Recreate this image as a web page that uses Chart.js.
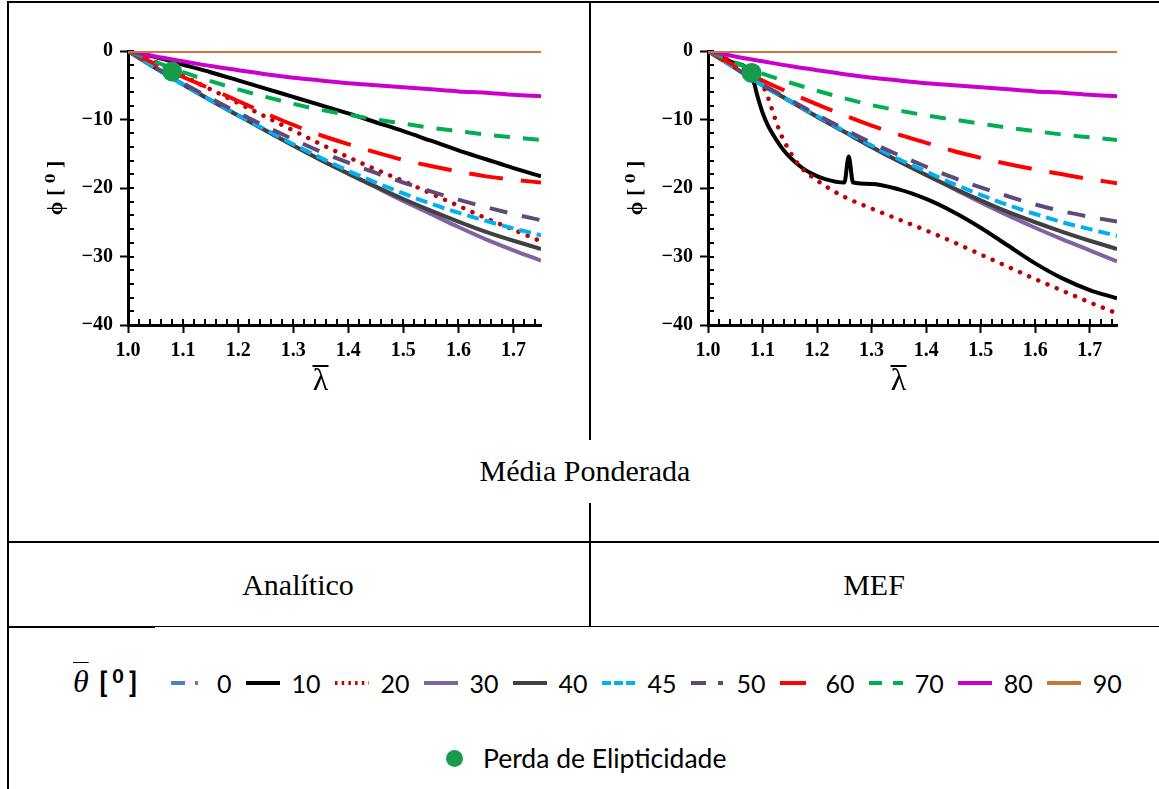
<!DOCTYPE html>
<html>
<head>
<meta charset="utf-8">
<script src="https://cdn.jsdelivr.net/npm/chart.js@4.4.0/dist/chart.umd.min.js"></script>
<style>
body { margin: 0; width: 1159px; height: 789px; position: relative; background: #fff; overflow: hidden; font-family: 'Liberation Serif', 'Times New Roman', serif; }
.ln { position: absolute; background: #000; }
canvas { position: absolute; }
.cap { position: absolute; font-size: 30px; color: #000; transform: translate(-50%, -50%); white-space: nowrap; }
#leg { position: absolute; left: 171px; top: 668px; height: 30px; display: flex; align-items: center; font-family: Lato, sans-serif; font-size: 25px; }
#leg .lab { margin: 0 14px 0 12px; }
#thLab { position: absolute; left: 73px; top: 663px; font-size: 28px; white-space: nowrap; }
#thLab .th { font-style: italic; font-size: 32px; text-decoration: overline; text-decoration-thickness: 1px; }
#thLab b { font-family: Lato, sans-serif; font-weight: 900; margin-left: 10px; }
#thLab sup { font-size: 19px; vertical-align: 9px; margin: 0 5px; }
#perda { position: absolute; left: 446px; top: 742px; display: flex; align-items: center; font-family: Lato, sans-serif; font-size: 26.5px; }
#perda i { display: inline-block; width: 17px; height: 17px; border-radius: 50%; background: #179c4b; margin-right: 20px; }
</style>
</head>
<body>
<!-- moldura da tabela -->
<div class="ln" style="left:7px;top:1px;width:1152px;height:2px"></div>
<div class="ln" style="left:7px;top:1px;width:2px;height:788px"></div>
<div class="ln" style="left:589px;top:1px;width:2px;height:439px"></div>
<div class="ln" style="left:589px;top:503px;width:2px;height:124px"></div>
<div class="ln" style="left:7px;top:541px;width:1152px;height:2px"></div>
<div class="ln" style="left:7px;top:626px;width:148px;height:2px"></div>
<div class="ln" style="left:155px;top:626px;width:1004px;height:1px"></div>

<canvas id="graficaAna" width="578" height="437" style="left:9px;top:3px"></canvas>
<canvas id="graficaMef" width="566" height="437" style="left:591px;top:3px"></canvas>

<div class="cap" style="left:585px;top:471px">Média Ponderada</div>
<div class="cap" style="left:298px;top:585px">Analítico</div>
<div class="cap" style="left:874px;top:585px">MEF</div>

<div id="thLab"><span class="th">θ</span><b>[<sup>0</sup>]</b></div>
<div id="leg"></div>
<div id="perda"><i></i><span>Perda de Elipticidade</span></div>

<script>
    //-----------datos----------------------//
    const lambdaGrid = [1.00, 1.05, 1.10, 1.15, 1.20, 1.25, 1.30, 1.35, 1.40, 1.45, 1.50, 1.55, 1.60, 1.65, 1.70, 1.75];
    const thetas = ['0', '10', '20', '30', '40', '45', '50', '60', '70', '80', '90'];

    // phi [graus] - Analítico
    const anaPhi0  = [0, 0, 0, 0, 0, 0, 0, 0, 0, 0, 0, 0, 0, 0, 0, 0];
    const anaPhi10 = [0, -0.9, -2.0, -3.1, -4.3, -5.5, -6.7, -7.9, -9.1, -10.4, -11.7, -13.1, -14.5, -15.8, -17.1, -18.3];
    const anaPhi20 = [0, -1.6, -3.6, -5.6, -7.6, -9.6, -11.6, -13.6, -15.5, -17.3, -19.0, -20.8, -22.6, -24.4, -26.1, -27.8];
    const anaPhi30 = [0, -2.5, -4.9, -7.2, -9.4, -11.6, -13.8, -15.9, -17.9, -19.9, -21.9, -23.8, -25.7, -27.5, -29.1, -30.6];
    const anaPhi40 = [0, -2.5, -4.9, -7.2, -9.4, -11.6, -13.8, -15.9, -17.9, -19.8, -21.6, -23.3, -24.9, -26.4, -27.7, -28.9];
    const anaPhi45 = [0, -2.5, -4.9, -7.2, -9.4, -11.5, -13.6, -15.6, -17.5, -19.2, -20.8, -22.3, -23.6, -24.8, -25.9, -26.9];
    const anaPhi50 = [0, -2.4, -4.7, -6.9, -9.0, -11.0, -12.9, -14.7, -16.3, -17.8, -19.2, -20.5, -21.7, -22.8, -23.8, -24.7];
    const anaPhi60 = [0, -1.9, -3.8, -5.5, -7.3, -9.1, -10.8, -12.3, -13.6, -14.8, -15.9, -16.8, -17.6, -18.3, -18.8, -19.2];
    const anaPhi70 = [0, -1.6, -3.1, -4.4, -5.6, -6.7, -7.7, -8.6, -9.3, -10.0, -10.6, -11.2, -11.7, -12.2, -12.6, -13.0];
    const anaPhi80 = [0, -0.8, -1.5, -2.2, -2.8, -3.4, -3.9, -4.3, -4.7, -5.0, -5.3, -5.6, -5.9, -6.1, -6.4, -6.6];
    const anaPhi90 = [0, 0, 0, 0, 0, 0, 0, 0, 0, 0, 0, 0, 0, 0, 0, 0];

    // phi [graus] - MEF
    const mefPhi0  = [0, 0, 0, 0, 0, 0, 0, 0, 0, 0, 0, 0, 0, 0, 0, 0];
    const mefLambda10 = [1.00, 1.04, 1.078, 1.085, 1.09, 1.10, 1.11, 1.12, 1.135, 1.15, 1.17, 1.19, 1.215, 1.25, 1.258, 1.266, 1.30, 1.35, 1.40, 1.45, 1.50, 1.55, 1.60, 1.65, 1.70, 1.75];
    const mefPhi10 = [0, -1.5, -3.2, -4.8, -6.4, -9.0, -10.9, -12.3, -14.1, -15.5, -16.9, -17.9, -18.7, -19.2, -15.4, -19.2, -19.4, -20.2, -21.6, -23.5, -25.8, -28.4, -31.0, -33.2, -34.9, -36.1];
    const mefLambda20 = [1.00, 1.05, 1.08, 1.10, 1.111, 1.121, 1.135, 1.151, 1.168, 1.188, 1.215, 1.25, 1.30, 1.35, 1.40, 1.45, 1.50, 1.55, 1.60, 1.65, 1.70, 1.75];
    const mefPhi20 = [0, -1.8, -3.3, -5.0, -7.0, -9.4, -12.4, -14.8, -16.8, -18.2, -19.7, -21.3, -23.0, -24.6, -26.2, -27.9, -29.7, -31.5, -33.3, -35.0, -36.7, -38.3];
    const mefPhi30 = [0, -2.5, -5.0, -7.3, -9.6, -11.8, -14.0, -16.1, -18.1, -20.1, -22.1, -24.0, -25.8, -27.5, -29.1, -30.7];
    const mefPhi40 = [0, -2.5, -5.0, -7.3, -9.6, -11.8, -14.0, -16.1, -18.1, -20.0, -21.8, -23.5, -25.0, -26.4, -27.7, -28.9];
    const mefPhi45 = [0, -2.5, -5.0, -7.3, -9.5, -11.7, -13.8, -15.8, -17.6, -19.4, -21.0, -22.5, -23.8, -25.0, -26.0, -27.0];
    const mefPhi50 = [0, -2.5, -4.9, -7.1, -9.3, -11.4, -13.4, -15.2, -16.9, -18.5, -19.9, -21.2, -22.4, -23.4, -24.2, -24.9];
    const mefPhi60 = [0, -2.2, -4.3, -6.1, -7.8, -9.4, -10.9, -12.2, -13.4, -14.6, -15.6, -16.5, -17.3, -18.0, -18.7, -19.3];
    const mefPhi70 = [0, -1.7, -3.3, -4.6, -5.8, -6.9, -7.9, -8.7, -9.4, -10.0, -10.6, -11.2, -11.7, -12.2, -12.6, -13.0];
    const mefPhi80 = [0, -0.8, -1.5, -2.2, -2.8, -3.4, -3.9, -4.3, -4.7, -5.0, -5.3, -5.6, -5.9, -6.1, -6.4, -6.6];
    const mefPhi90 = [0, 0, 0, 0, 0, 0, 0, 0, 0, 0, 0, 0, 0, 0, 0, 0];

    // perda de elipticidade
    const perdaLambda = [1.08];
    const perdaPhiAna = [-3.0];
    const perdaPhiMef = [-3.2];

    //-----------estilos----------------------//
    const estilos = {
        '0':  { color: '#4F81BD', dash: [14, 8, 3, 8], leg: '14 10 3 10' },
        '10': { color: '#000000', dash: [], leg: '' },
        '20': { color: '#C00000', dash: [0.01, 10], cap: 'round', leg: '2.5 4.2' },
        '30': { color: '#8064A2', dash: [], leg: '' },
        '40': { color: '#404040', dash: [], leg: '' },
        '45': { color: '#00B0F0', dash: [12, 6], leg: '9 3' },
        '50': { color: '#5F497A', dash: [18, 15], leg: '15 12 5 20' },
        '60': { color: '#FF0000', dash: [34, 18], leg: '26 40' },
        '70': { color: '#00B050', dash: [16, 13], leg: '13 11' },
        '80': { color: '#CC00CC', dash: [], leg: '' },
        '90': { color: '#C9783A', dash: [], leg: '' }
    };
    const verde = '#179c4b';

    function serie(xs, ys) {
        return xs.map((x, i) => ({ x: x, y: ys[i] }));
    }

    function armar(series, perdaPhi) {
        const sets = series.map(function(s, i) {
            const e = estilos[s.theta];
            return {
                label: s.theta,
                data: serie(s.x, s.y),
                borderColor: e.color,
                borderWidth: s.theta === '20' ? 4.5 : 4,
                borderDash: e.dash,
                borderCapStyle: e.cap || 'butt',
                pointRadius: 0,
                cubicInterpolationMode: 'monotone',
                fill: false,
                order: thetas.length - i
            };
        });
        sets.push({
            label: 'Perda de Elipticidade',
            data: serie(perdaLambda, perdaPhi),
            showLine: false,
            pointRadius: 10,
            pointBackgroundColor: verde,
            pointBorderWidth: 0,
            order: 0
        });
        return sets;
    }

    // marcas menores dos eixos
    const marcas = {
        id: 'marcas',
        beforeDatasetsDraw(chart) {
            const { ctx, chartArea: a, scales: { x, y } } = chart;
            ctx.save();
            ctx.strokeStyle = '#000';
            ctx.lineWidth = 2;
            ctx.beginPath();
            for (let v = -40; v <= 0; v += 2) {
                const py = Math.round(y.getPixelForValue(v));
                ctx.moveTo(a.left, py);
                ctx.lineTo(a.left + 6, py);
            }
            for (let i = 0; i <= 37; i++) {
                const px = Math.round(x.getPixelForValue(1 + i * 0.02));
                ctx.moveTo(px, a.bottom);
                ctx.lineTo(px, a.bottom - 6);
            }
            ctx.stroke();
            ctx.restore();
        }
    };

    // titulo do eixo x: lambda com barra
    const tituloX = {
        id: 'tituloX',
        afterDraw(chart) {
            const { ctx, chartArea: a } = chart;
            const cx = (a.left + a.right) / 2 - 14;
            const cy = a.bottom + 57;
            ctx.save();
            ctx.font = "32px 'Liberation Serif', 'DejaVu Serif', serif";
            ctx.fillStyle = '#000';
            ctx.textAlign = 'center';
            ctx.textBaseline = 'middle';
            ctx.fillText('λ', cx, cy);
            ctx.fillRect(cx - 8, cy - 17, 16, 2);
            ctx.restore();
        }
    };

    const fonteTick = { family: "'Liberation Serif', 'Times New Roman', serif", weight: 'bold', size: 20 };

    function opciones(yWidth, padRight, titleX) {
        return {
            responsive: false,
            animation: false,
            layout: { padding: { top: 48, right: padRight, left: 0, bottom: 0 } },
            plugins: { legend: { display: false }, tooltip: { enabled: false } },
            scales: {
                x: {
                    type: 'linear',
                    min: 1.0,
                    max: 1.75,
                    afterFit: function(s) { s.height = 115; },
                    border: { display: true, color: '#000', width: 3 },
                    grid: { drawOnChartArea: false, drawTicks: true, tickLength: 8, tickWidth: 2, tickColor: '#000' },
                    ticks: {
                        stepSize: 0.1,
                        includeBounds: false,
                        padding: 6,
                        color: '#000',
                        font: fonteTick,
                        maxRotation: 0,
                        callback: v => v.toFixed(1)
                    }
                },
                y: {
                    min: -40,
                    max: 0,
                    afterFit: function(s) { s.width = yWidth; },
                    border: { display: true, color: '#000', width: 3 },
                    grid: { drawOnChartArea: false, drawTicks: true, tickLength: 8, tickWidth: 2, tickColor: '#000' },
                    ticks: {
                        stepSize: 10,
                        padding: 7,
                        color: '#000',
                        font: fonteTick,
                        callback: v => (v < 0 ? '\u2212' + Math.abs(v) : '' + v)
                    },
                    title: {
                        display: true,
                        text: 'ϕ [ ⁰ ]',
                        color: '#000',
                        font: { family: "'Liberation Serif', 'DejaVu Serif', serif", weight: 'bold', size: 22 },
                        padding: { top: titleX, bottom: 0 }
                    }
                }
            }
        };
    }

    //-----------grafica Analítico----------------------//
    const seriesAna = [
        { theta: '0', x: lambdaGrid, y: anaPhi0 },
        { theta: '10', x: lambdaGrid, y: anaPhi10 },
        { theta: '20', x: lambdaGrid, y: anaPhi20 },
        { theta: '30', x: lambdaGrid, y: anaPhi30 },
        { theta: '40', x: lambdaGrid, y: anaPhi40 },
        { theta: '45', x: lambdaGrid, y: anaPhi45 },
        { theta: '50', x: lambdaGrid, y: anaPhi50 },
        { theta: '60', x: lambdaGrid, y: anaPhi60 },
        { theta: '70', x: lambdaGrid, y: anaPhi70 },
        { theta: '80', x: lambdaGrid, y: anaPhi80 },
        { theta: '90', x: lambdaGrid, y: anaPhi90 }
    ];
    new Chart(document.getElementById('graficaAna').getContext('2d'), {
        type: 'line',
        data: { datasets: armar(seriesAna, perdaPhiAna) },
        options: opciones(119, 46, 34),
        plugins: [marcas, tituloX]
    });

    //-----------grafica MEF----------------------//
    const seriesMef = [
        { theta: '0', x: lambdaGrid, y: mefPhi0 },
        { theta: '10', x: mefLambda10, y: mefPhi10 },
        { theta: '20', x: mefLambda20, y: mefPhi20 },
        { theta: '30', x: lambdaGrid, y: mefPhi30 },
        { theta: '40', x: lambdaGrid, y: mefPhi40 },
        { theta: '45', x: lambdaGrid, y: mefPhi45 },
        { theta: '50', x: lambdaGrid, y: mefPhi50 },
        { theta: '60', x: lambdaGrid, y: mefPhi60 },
        { theta: '70', x: lambdaGrid, y: mefPhi70 },
        { theta: '80', x: lambdaGrid, y: mefPhi80 },
        { theta: '90', x: lambdaGrid, y: mefPhi90 }
    ];
    new Chart(document.getElementById('graficaMef').getContext('2d'), {
        type: 'line',
        data: { datasets: armar(seriesMef, perdaPhiMef) },
        options: opciones(117, 40, 32),
        plugins: [marcas, tituloX]
    });

    //-----------leyenda----------------------//
    const leg = document.getElementById('leg');
    thetas.forEach(function(t) {
        const e = estilos[t];
        const item = document.createElement('span');
        item.style.display = 'inline-flex';
        item.style.alignItems = 'center';
        item.innerHTML = '<svg width="34" height="10"><line x1="0" y1="5" x2="34" y2="5" stroke="' + e.color +
            '" stroke-width="4"' + (e.leg ? ' stroke-dasharray="' + e.leg + '"' : '') + '/></svg>' +
            '<span class="lab">' + t + '</span>';
        leg.appendChild(item);
    });
</script>
</body>
</html>
